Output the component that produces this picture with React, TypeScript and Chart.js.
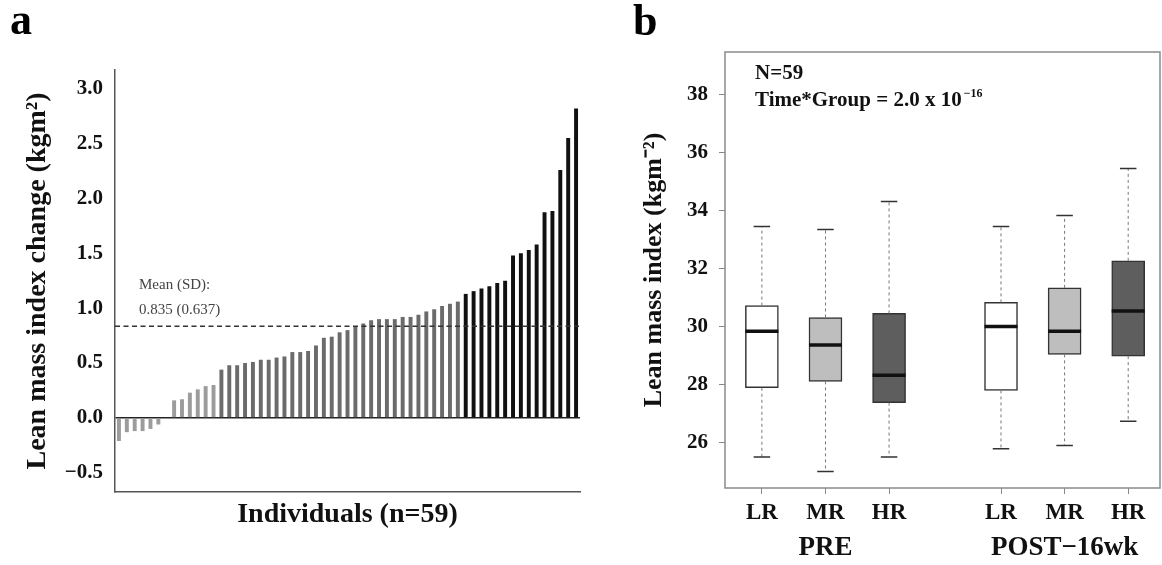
import React, { useEffect, useRef } from "react";
import { Chart, registerables } from "chart.js";

Chart.register(...registerables);

// ---------- Panel a data ----------
const CHANGE_VALUES = [
  -0.21, -0.13, -0.12, -0.12, -0.1, -0.06, -0.01,
  0.16, 0.17, 0.23, 0.26, 0.29, 0.3,
  0.44, 0.48, 0.48, 0.5, 0.51, 0.53, 0.53, 0.55, 0.56, 0.6, 0.6, 0.61,
  0.66, 0.73, 0.74, 0.78, 0.8, 0.83, 0.86, 0.89, 0.9, 0.9, 0.9, 0.92, 0.92, 0.94, 0.97, 0.99, 1.02, 1.04, 1.06,
  1.13, 1.155, 1.18, 1.2, 1.23, 1.25, 1.48, 1.5, 1.53, 1.58, 1.875, 1.885, 2.26, 2.55, 2.82,
];
const TONE_SIZES = [13, 31, 15]; // light, mid, dark bars (in sorted order)
const MEAN = 0.835;
const SD = 0.637;
const TICKS_A = [-0.5, 0, 0.5, 1.0, 1.5, 2.0, 2.5, 3.0];

// ---------- Panel b data ----------
const GROUPS = ["LR", "MR", "HR"];
const TIMEPOINTS = ["PRE", "POST\u221216wk"];
const WHISK_LO = [25.51, 25.01, 25.51, 25.79, 25.9, 26.74];
const Q1 = [27.89, 28.11, 27.38, 27.8, 29.04, 28.98];
const MEDIAN = [29.84, 29.36, 28.32, 30.0, 29.84, 30.53];
const Q3 = [30.72, 30.31, 30.45, 30.83, 31.33, 32.26];
const WHISK_HI = [33.44, 33.34, 34.3, 33.44, 33.82, 35.44];
const TICKS_B = [26, 28, 30, 32, 34, 36, 38];
const N_SUBJECTS = 59;

const SERIF = "'Liberation Serif', 'Times New Roman', serif";
const TONES = ["#9c9c9c", "#6b6b6b", "#111111"];
const BOX_FILLS = ["#ffffff", "#bebebe", "#5e5e5e"];

function fmtTick(v: number, digits: number) {
  const s = Math.abs(v).toFixed(digits);
  return v < 0 ? "\u2212" + s : s;
}

export default function App() {
  const refA = useRef<HTMLCanvasElement>(null);
  const refB = useRef<HTMLCanvasElement>(null);

  useEffect(() => {
    Chart.defaults.font.family = SERIF;
    Chart.defaults.color = "#111";

    // ---------- Panel a ----------
    const labels = CHANGE_VALUES.map((_, i) => String(i + 1));
    const barColors = CHANGE_VALUES.map((_, i) => {
      let acc = 0;
      for (let g = 0; g < TONE_SIZES.length; g++) {
        acc += TONE_SIZES[g];
        if (i < acc) return TONES[g];
      }
      return TONES[TONES.length - 1];
    });

    const plugA = {
      id: "annoA",
      afterDatasetsDraw(chart: any) {
        const { ctx, chartArea: ca, scales } = chart;
        const yp = scales.y.getPixelForValue(MEAN);
        ctx.save();
        ctx.setLineDash([5, 3.5]);
        ctx.strokeStyle = "#333";
        ctx.lineWidth = 1.5;
        ctx.beginPath();
        ctx.moveTo(ca.left, yp);
        ctx.lineTo(ca.right, yp);
        ctx.stroke();
        ctx.setLineDash([]);
        ctx.fillStyle = "#444";
        ctx.font = `15px ${SERIF}`;
        ctx.textBaseline = "middle";
        ctx.textAlign = "left";
        ctx.fillText("Mean (SD):", ca.left + 24, yp - 41);
        ctx.fillText(`${MEAN.toFixed(3)} (${SD.toFixed(3)})`, ca.left + 24, yp - 16);
        ctx.fillStyle = "#000";
        ctx.font = `bold 44px ${SERIF}`;
        ctx.textBaseline = "alphabetic";
        ctx.fillText("a", 10, 34);
        ctx.restore();
      },
    };

    const chartA = new Chart(refA.current!, {
      type: "bar",
      data: {
        labels,
        datasets: [
          {
            data: CHANGE_VALUES,
            backgroundColor: barColors,
            borderWidth: 0,
            barPercentage: 0.5,
            categoryPercentage: 1,
          },
        ],
      },
      options: {
        responsive: false,
        animation: false,
        layout: { padding: { left: 10, right: 20, top: 70, bottom: 0 } },
        plugins: { legend: { display: false }, tooltip: { enabled: false } },
        scales: {
          x: {
            type: "category",
            grid: { display: false, drawTicks: false },
            ticks: { display: false },
            border: { display: true, color: "#555", width: 1.5 },
            title: {
              display: true,
              text: `Individuals (n=${CHANGE_VALUES.length})`,
              font: { family: SERIF, size: 28, weight: "bold" },
              color: "#111",
              padding: { top: 0, bottom: 33 },
            },
            afterFit: (s: any) => {
              s.height = 73;
            },
          },
          y: {
            min: -0.675,
            max: 3.17,
            grid: {
              drawTicks: false,
              color: (c: any) => (c.tick && c.tick.value === 0 ? "#222" : "rgba(0,0,0,0)"),
              lineWidth: 1.5,
            },
            border: { display: true, color: "#555", width: 1.5 },
            ticks: {
              padding: 12,
              font: { family: SERIF, size: 21, weight: "bold" },
              color: "#111",
              callback: (v: any) => fmtTick(Number(v), 1),
            },
            afterBuildTicks: (s: any) => {
              s.ticks = TICKS_A.map((v) => ({ value: v }));
            },
            title: {
              display: true,
              text: "Lean mass index change (kgm\u00B2)",
              font: { family: SERIF, size: 28, weight: "bold" },
              color: "#111",
              padding: { top: 11, bottom: 0 },
            },
            afterFit: (s: any) => {
              s.width = 105;
            },
          },
        },
      },
      plugins: [plugA],
    } as any);

    // ---------- Panel b ----------
    const positions = MEDIAN.map((_, i) => (i % GROUPS.length) + 1 + Math.floor(i / GROUPS.length) * 3.76);
    const tickLabels = MEDIAN.map((_, i) => GROUPS[i % GROUPS.length]);
    const fills = MEDIAN.map((_, i) => BOX_FILLS[i % GROUPS.length]);

    const plugB = {
      id: "annoB",
      afterDatasetsDraw(chart: any) {
        const { ctx, chartArea: ca, scales } = chart;
        const { x, y } = scales;
        const meta = chart.getDatasetMeta(0);
        ctx.save();
        // frame
        ctx.strokeStyle = "#8a8a8a";
        ctx.lineWidth = 1.5;
        ctx.strokeRect(ca.left, ca.top, ca.right - ca.left, ca.bottom - ca.top);
        for (let i = 0; i < MEDIAN.length; i++) {
          const px = x.getPixelForValue(positions[i]);
          const w = meta.data[i] ? meta.data[i].width : 33;
          // whiskers
          ctx.setLineDash([3, 3]);
          ctx.strokeStyle = "#777";
          ctx.lineWidth = 1;
          ctx.beginPath();
          ctx.moveTo(px, y.getPixelForValue(Q3[i]));
          ctx.lineTo(px, y.getPixelForValue(WHISK_HI[i]));
          ctx.moveTo(px, y.getPixelForValue(Q1[i]));
          ctx.lineTo(px, y.getPixelForValue(WHISK_LO[i]));
          ctx.stroke();
          ctx.setLineDash([]);
          // caps
          ctx.strokeStyle = "#333";
          ctx.lineWidth = 1.5;
          ctx.beginPath();
          ctx.moveTo(px - w / 4, y.getPixelForValue(WHISK_HI[i]));
          ctx.lineTo(px + w / 4, y.getPixelForValue(WHISK_HI[i]));
          ctx.moveTo(px - w / 4, y.getPixelForValue(WHISK_LO[i]));
          ctx.lineTo(px + w / 4, y.getPixelForValue(WHISK_LO[i]));
          ctx.stroke();
          // median
          ctx.strokeStyle = "#111";
          ctx.lineWidth = 3.5;
          ctx.beginPath();
          ctx.moveTo(px - w / 2, y.getPixelForValue(MEDIAN[i]));
          ctx.lineTo(px + w / 2, y.getPixelForValue(MEDIAN[i]));
          ctx.stroke();
        }
        // time point labels
        ctx.fillStyle = "#111";
        ctx.font = `bold 27px ${SERIF}`;
        ctx.textAlign = "center";
        ctx.textBaseline = "middle";
        TIMEPOINTS.forEach((t, g) => {
          const mid = positions[g * GROUPS.length + 1];
          ctx.fillText(t, x.getPixelForValue(mid), 548);
        });
        // annotation
        ctx.textAlign = "left";
        ctx.font = `bold 21px ${SERIF}`;
        ctx.fillText(`N=${N_SUBJECTS}`, ca.left + 30, ca.top + 22);
        const base = "Time*Group = 2.0 x 10";
        ctx.fillText(base, ca.left + 30, ca.top + 49);
        const bw = ctx.measureText(base).width;
        ctx.font = `bold 12px ${SERIF}`;
        ctx.fillText("\u221216", ca.left + 32 + bw, ca.top + 42);
        // panel letter
        ctx.font = `bold 44px ${SERIF}`;
        ctx.textBaseline = "alphabetic";
        ctx.fillStyle = "#000";
        ctx.fillText("b", 33, 35);
        ctx.restore();
      },
    };

    const chartB = new Chart(refB.current!, {
      type: "bar",
      data: {
        datasets: [
          {
            data: MEDIAN.map((_, i) => ({ x: positions[i], y: [Q1[i], Q3[i]] })),
            backgroundColor: fills,
            borderColor: "#333",
            borderWidth: 1.5,
            borderSkipped: false,
            barThickness: 33,
          },
        ],
      },
      options: {
        responsive: false,
        animation: false,
        layout: { padding: { left: 10, right: 2, top: 52, bottom: 0 } },
        plugins: { legend: { display: false }, tooltip: { enabled: false } },
        scales: {
          x: {
            type: "linear",
            min: 0.42,
            max: 7.26,
            offset: false,
            grid: { offset: false, drawOnChartArea: false, drawTicks: true, tickLength: 6, color: "#888", lineWidth: 1 },
            border: { display: false },
            ticks: {
              autoSkip: false,
              maxRotation: 0,
              padding: 5,
              font: { family: SERIF, size: 23, weight: "bold" },
              color: "#111",
              callback: (_v: any, i: number) => tickLabels[i],
            },
            afterBuildTicks: (s: any) => {
              s.ticks = positions.map((v) => ({ value: v }));
            },
            afterFit: (s: any) => {
              s.height = 77;
            },
          },
          y: {
            min: 24.44,
            max: 39.45,
            grid: { drawOnChartArea: false, drawTicks: true, tickLength: 6, color: "#888", lineWidth: 1 },
            border: { display: false },
            ticks: {
              padding: 11,
              font: { family: SERIF, size: 21, weight: "bold" },
              color: "#111",
              callback: (v: any) => String(v),
            },
            afterBuildTicks: (s: any) => {
              s.ticks = TICKS_B.map((v) => ({ value: v }));
            },
            title: {
              display: true,
              text: "Lean mass index (kgm\u207B\u00B2)",
              font: { family: SERIF, size: 26, weight: "bold" },
              color: "#111",
              padding: { top: 29, bottom: 0 },
            },
            afterFit: (s: any) => {
              s.width = 115;
            },
          },
        },
      },
      plugins: [plugB],
    } as any);

    return () => {
      chartA.destroy();
      chartB.destroy();
    };
  }, []);

  return (
    <div style={{ position: "absolute", left: 0, top: 0, width: 1162, height: 565, background: "#fff" }}>
      <canvas ref={refA} width={600} height={565} style={{ position: "absolute", left: 0, top: 0 }} />
      <canvas ref={refB} width={562} height={565} style={{ position: "absolute", left: 600, top: 0 }} />
    </div>
  );
}
